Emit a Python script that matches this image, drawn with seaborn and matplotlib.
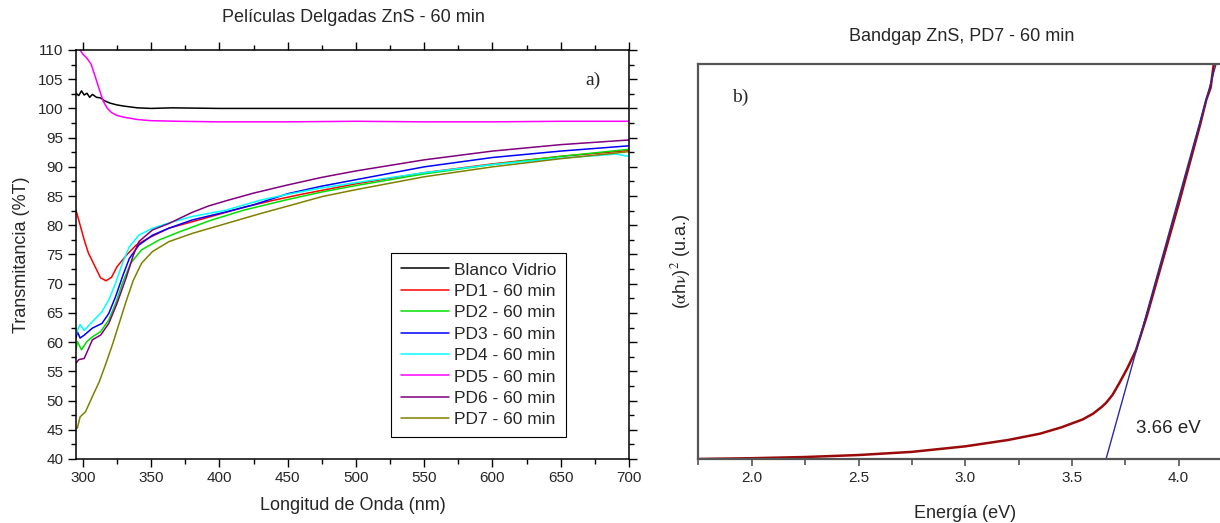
import numpy as np
import pandas as pd
import matplotlib
matplotlib.use("Agg")
import matplotlib.pyplot as plt
import seaborn as sns
from matplotlib.ticker import MultipleLocator, FormatStrFormatter

# ---- datos a) transmitancia ----
series_names = ["Blanco Vidrio", "PD1 - 60 min", "PD2 - 60 min", "PD3 - 60 min",
                "PD4 - 60 min", "PD5 - 60 min", "PD6 - 60 min", "PD7 - 60 min"]
series_colors = ["#000000", "#ff0000", "#00e000", "#0000ff",
                 "#00ffff", "#ff00ff", "#800080", "#808000"]

wl_blanco = [295, 297, 299, 301, 303, 305, 307, 310, 313, 316, 320, 325, 330, 340, 350,
             365, 400, 450, 500, 550, 600, 650, 700]
t_blanco = [102.6, 102.2, 103.0, 102.3, 102.6, 101.9, 102.4, 101.9, 101.8, 101.3, 100.9,
            100.6, 100.4, 100.1, 100.0, 100.1, 100.0, 100.0, 100.0, 100.0, 100.0, 100.0, 100.0]

wl_pd1 = [295, 297, 301, 304, 309, 313, 317, 321, 325, 332, 339, 348, 363, 380, 400,
          420, 440, 460, 500, 550, 600, 650, 700]
t_pd1 = [82.6, 80.9, 77.5, 75.3, 72.9, 71.0, 70.5, 71.1, 72.9, 74.9, 76.6, 77.8, 79.5,
         80.6, 81.9, 83.2, 84.3, 85.3, 87.1, 89.0, 90.5, 91.8, 92.8]

wl_pd2 = [295, 296, 299, 303, 307, 313, 319, 324, 329, 335, 343, 356, 371, 393, 418,
          448, 475, 500, 550, 600, 650, 700]
t_pd2 = [58.7, 60.1, 58.7, 60.1, 60.9, 61.8, 63.8, 66.6, 70.1, 73.5, 75.8, 77.5, 78.9,
         80.8, 82.6, 84.3, 85.7, 86.8, 88.8, 90.4, 91.8, 93.0]

wl_pd3 = [295, 296, 298, 301, 307, 314, 319, 324, 329, 334, 341, 351, 363, 380, 405,
          425, 450, 475, 500, 550, 600, 650, 700]
t_pd3 = [60.7, 61.8, 60.7, 61.2, 62.4, 63.2, 64.9, 67.8, 71.2, 74.3, 76.6, 78.3, 79.5,
         80.9, 82.3, 83.5, 85.4, 86.7, 87.8, 90.0, 91.6, 92.7, 93.6]

wl_pd4 = [295, 296, 298, 301, 307, 314, 319, 324, 329, 334, 341, 351, 363, 380, 405,
          430, 450, 475, 500, 550, 600, 650, 680, 690, 700]
t_pd4 = [61.2, 62.0, 63.0, 62.0, 63.5, 65.2, 67.2, 70.1, 73.5, 76.3, 78.3, 79.5, 80.4,
         81.5, 82.6, 84.3, 85.3, 86.4, 87.3, 89.0, 90.4, 91.5, 92.0, 92.2, 91.8]

wl_pd5 = [295, 298, 300, 303, 306, 309, 312, 315, 318, 321, 325, 330, 340, 350, 370,
          400, 450, 500, 550, 600, 650, 700]
t_pd5 = [111.0, 110.0, 109.3, 108.6, 107.6, 105.5, 103.3, 101.2, 100.0, 99.3, 98.8,
         98.5, 98.1, 97.9, 97.8, 97.7, 97.7, 97.8, 97.7, 97.7, 97.8, 97.8]

wl_pd6 = [295, 297, 301, 307, 313, 319, 325, 332, 337, 341, 351, 363, 380, 392, 405,
          425, 450, 475, 500, 550, 600, 650, 700]
t_pd6 = [56.4, 57.0, 57.2, 60.4, 61.2, 63.2, 66.6, 71.2, 74.9, 77.2, 79.2, 80.3, 82.2,
         83.3, 84.2, 85.5, 86.9, 88.2, 89.3, 91.2, 92.7, 93.8, 94.6]

wl_pd7 = [295, 296, 298, 302, 307, 312, 317, 322, 327, 332, 337, 343, 351, 363, 380,
          405, 430, 455, 475, 500, 550, 600, 650, 700]
t_pd7 = [45.3, 45.3, 47.2, 48.1, 50.7, 53.2, 56.4, 59.8, 63.5, 67.2, 70.6, 73.5, 75.5,
         77.2, 78.6, 80.3, 82.0, 83.6, 84.9, 86.1, 88.3, 90.0, 91.4, 92.6]

# ---- datos b) bandgap PD7 ----
energia = [1.75, 2.0, 2.25, 2.5, 2.75, 3.0, 3.2, 3.35, 3.45, 3.5, 3.55, 3.6, 3.64,
           3.66, 3.69, 3.72, 3.76, 3.80, 3.85, 3.90, 3.95, 4.0, 4.05, 4.10, 4.13,
           4.15, 4.165]
alpha_hv2 = [0.0, 0.02, 0.05, 0.10, 0.18, 0.32, 0.48, 0.64, 0.80, 0.90, 1.0, 1.15,
             1.32, 1.42, 1.62, 1.90, 2.30, 2.75, 3.60, 4.55, 5.50, 6.45, 7.45, 8.45,
             9.10, 9.40, 10.0]
eg = 3.66
pendiente = 19.4
fit_e = [eg, 4.22]

sns.set_theme(style="ticks")
plt.rcParams["font.family"] = ["Liberation Sans", "DejaVu Sans"]
plt.rcParams["mathtext.fontset"] = "stix"

fig = plt.figure(figsize=(12.2, 5.23), dpi=100)
ax1 = fig.add_axes([0.0623, 0.1224, 0.4533, 0.782])
ax2 = fig.add_axes([0.5725, 0.1224, 0.4373, 0.7552])

# a) curvas de transmitancia
all_wl = [wl_blanco, wl_pd1, wl_pd2, wl_pd3, wl_pd4, wl_pd5, wl_pd6, wl_pd7]
all_t = [t_blanco, t_pd1, t_pd2, t_pd3, t_pd4, t_pd5, t_pd6, t_pd7]
df = pd.concat([pd.DataFrame({"wl": w, "T": t, "muestra": n})
                for w, t, n in zip(all_wl, all_t, series_names)], ignore_index=True)

sns.lineplot(data=df, x="wl", y="T", hue="muestra", hue_order=series_names,
             palette=dict(zip(series_names, series_colors)), estimator=None,
             sort=False, lw=1.1, ax=ax1)

ax1.set_xlim(295, 700)
ax1.set_ylim(40, 110)
ax1.xaxis.set_major_locator(MultipleLocator(50))
ax1.xaxis.set_minor_locator(MultipleLocator(25))
ax1.yaxis.set_major_locator(MultipleLocator(5))
ax1.yaxis.set_minor_locator(MultipleLocator(2.5))
ax1.tick_params(which="both", direction="out", top=True, right=True,
                labeltop=False, labelright=False, color="black", width=1.0)
ax1.tick_params(which="major", length=6, labelsize=11, pad=3)
ax1.tick_params(which="minor", length=3.5)
for s in ax1.spines.values():
    s.set_visible(True)
    s.set_color("black")
    s.set_linewidth(1.1)
ax1.set_xlabel("Longitud de Onda (nm)", fontsize=13, labelpad=8)
ax1.set_ylabel("Transmitancia (%T)", fontsize=13, labelpad=6)
ax1.text(0.935, 0.927, "a)", transform=ax1.transAxes, ha="center", va="center",
         fontsize=14, family="Liberation Serif")

handles, labels = ax1.get_legend_handles_labels()
leg = ax1.legend(handles, labels, loc="lower left", bbox_to_anchor=(0.57, 0.054),
                 fontsize=12.5, frameon=True, fancybox=False, framealpha=1,
                 edgecolor="black", labelspacing=0.36, handlelength=2.8,
                 handletextpad=0.25, borderpad=0.55, borderaxespad=0)
leg.get_frame().set_linewidth(0.8)

# b) bandgap
sns.lineplot(x=energia, y=alpha_hv2, color="#9a0a0a", lw=1.8, sort=False, ax=ax2)
fit_y = [pendiente * (e - eg) for e in fit_e]
sns.lineplot(x=fit_e, y=fit_y, color="#2a2aa8", lw=1.0, sort=False, ax=ax2)

ax2.set_xlim(1.75, 4.25)
ax2.set_ylim(0, 10)
ax2.set_yticks([])
ax2.xaxis.set_major_locator(MultipleLocator(0.5))
ax2.xaxis.set_minor_locator(MultipleLocator(0.25))
ax2.xaxis.set_major_formatter(FormatStrFormatter("%.1f"))
ax2.tick_params(axis="x", which="both", direction="out", color="#555555", width=1.2)
ax2.tick_params(axis="x", which="major", length=5, labelsize=11, pad=4)
ax2.tick_params(axis="x", which="minor", length=4)
for s in ax2.spines.values():
    s.set_visible(True)
    s.set_color("#555555")
    s.set_linewidth(1.6)
ax2.set_xlabel("Energía (eV)", fontsize=13, labelpad=14)
ax2.set_ylabel(r"($\mathrm{\alpha}$h$\mathrm{\nu}$)$^2$ (u.a.)", fontsize=13, labelpad=4)
ax2.text(0.078, 0.916, "b)", transform=ax2.transAxes, ha="center", va="center",
         fontsize=14, family="Liberation Serif")
ax2.text(0.88, 0.078, "3.66 eV", transform=ax2.transAxes, ha="center", va="center",
         fontsize=13.5, color="#222222")

fig.text(353 / 1220, 1 - 18 / 523, "Películas Delgadas ZnS - 60 min", ha="center",
         va="center", fontsize=13)
fig.text(962 / 1220, 1 - 36 / 523, "Bandgap ZnS, PD7 - 60 min", ha="center",
         va="center", fontsize=13)

fig.savefig("out.png", dpi=100)
